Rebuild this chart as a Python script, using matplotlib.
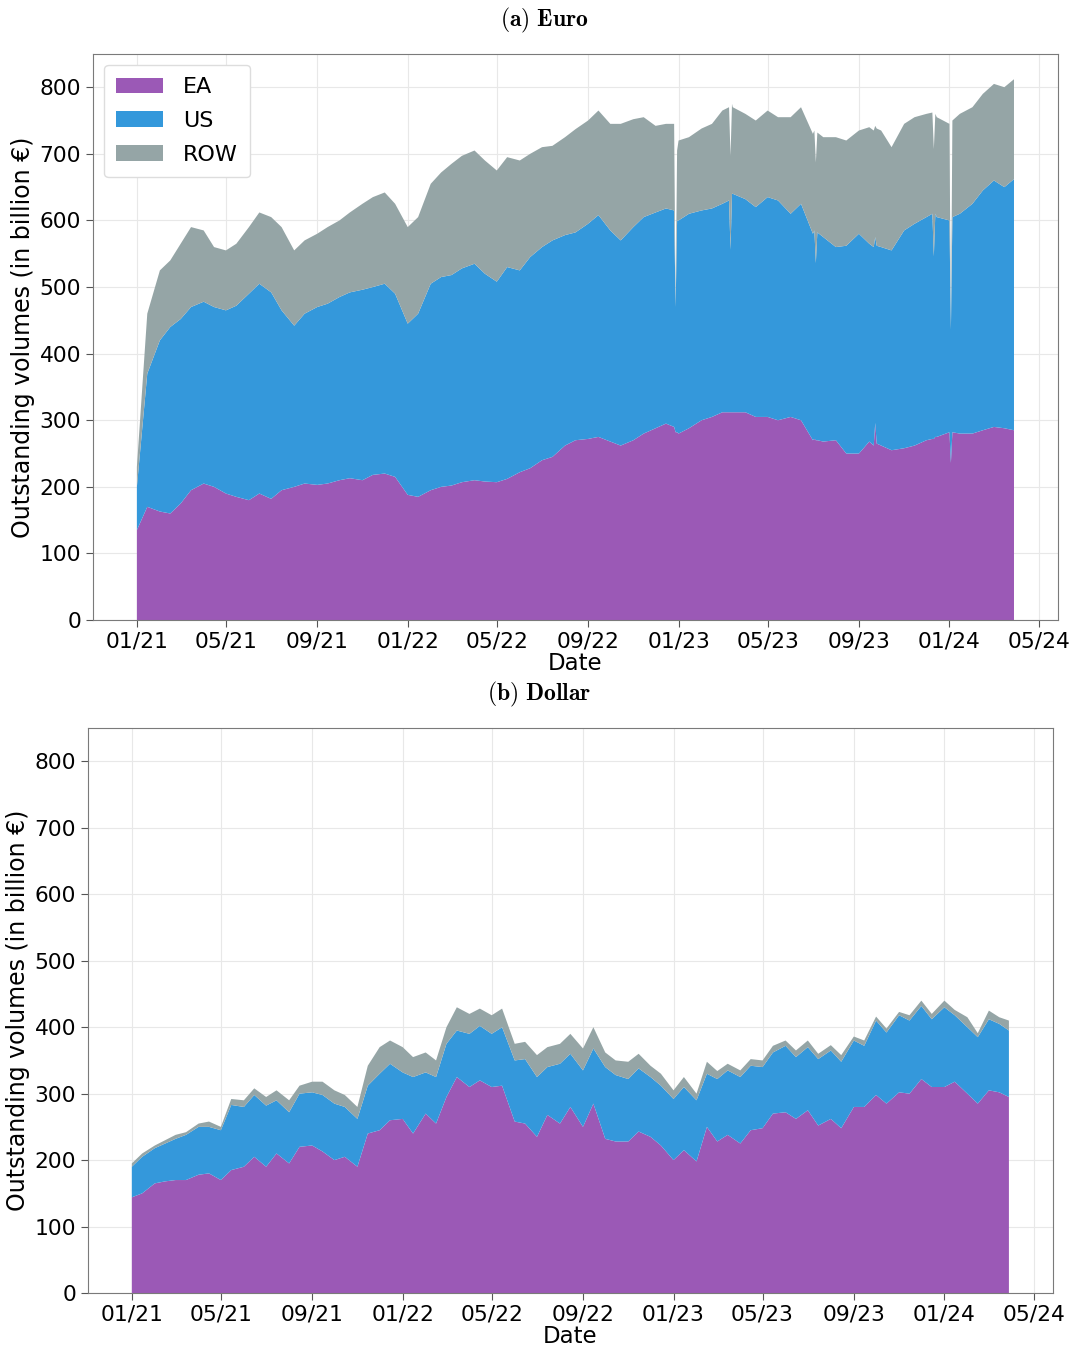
import numpy as np
import pandas as pd
import matplotlib
matplotlib.use('Agg')
import matplotlib.pyplot as plt
import matplotlib.dates as mdates

# semi-monthly reading dates, last one is the final day of data
dates = list(pd.date_range('2021-01-01', '2024-03-15', freq='SMS')) + [pd.Timestamp('2024-03-28')]

# (a) Euro, values (billion)
euro_ea = [135, 170, 163, 160, 175, 195, 205, 200, 190, 185, 180, 190, 182, 195, 200, 205,
           203, 205, 210, 213, 210, 218, 220, 215, 188, 185, 195, 200, 202, 207, 210, 208,
           207, 212, 222, 228, 240, 245, 262, 270, 272, 275, 268, 262, 270, 280, 288, 295,
           280, 288, 300, 305, 312, 312, 312, 305, 305, 300, 305, 300, 270, 268, 270, 250,
           250, 268, 262, 255, 258, 262, 270, 275, 282, 280, 280, 285, 290, 288, 285]
euro_us = [65, 200, 257, 280, 277, 275, 273, 270, 275, 287, 310, 315, 310, 270, 242, 255,
           267, 270, 275, 279, 286, 282, 285, 275, 257, 275, 310, 315, 316, 321, 325, 312,
           301, 318, 303, 317, 320, 325, 316, 312, 323, 333, 317, 308, 320, 325, 324, 323,
           320, 322, 315, 313, 313, 328, 320, 315, 330, 330, 305, 325, 310, 307, 290, 312,
           330, 297, 298, 300, 327, 333, 335, 330, 318, 330, 345, 360, 370, 362, 377]
euro_row = [30, 90, 105, 100, 113, 120, 107, 90, 90, 93, 100, 107, 113, 125, 113, 110,
            110, 115, 115, 120, 129, 135, 137, 135, 145, 145, 150, 157, 167, 169, 170, 170,
            167, 165, 165, 155, 150, 142, 147, 155, 155, 157, 160, 175, 162, 150, 130, 127,
            120, 115, 123, 127, 140, 130, 128, 130, 130, 125, 145, 145, 150, 150, 165, 158,
            155, 175, 175, 155, 160, 160, 155, 150, 145, 150, 145, 145, 145, 150, 150]

# single-day drops and spikes in the euro series
euro_event_dates = ['2022-12-26', '2022-12-28', '2022-12-30', '2023-03-10', '2023-03-12', '2023-03-14',
                    '2023-07-03', '2023-07-05', '2023-07-07', '2023-09-21', '2023-09-23', '2023-09-25',
                    '2023-12-09', '2023-12-11', '2023-12-13', '2024-01-03', '2024-01-05']
euro_event_ea = [290, 282, 282, 312, 312, 312, 272, 270, 270, 262, 296, 265, 272, 272, 275, 236, 282]
euro_event_us = [325, 188, 318, 318, 244, 328, 313, 266, 312, 298, 279, 297, 338, 274, 335, 200, 323]
euro_event_row = [130, 5, 105, 140, 141, 135, 150, 151, 150, 175, 167, 176, 152, 161, 150, 5, 145]

# (b) Dollar
dollar_ea = [144, 150, 165, 168, 170, 170, 178, 180, 170, 185, 190, 205, 190, 210, 195, 220,
             222, 213, 200, 205, 190, 240, 245, 260, 262, 240, 270, 255, 295, 325, 310, 320,
             310, 312, 258, 255, 235, 268, 255, 280, 250, 285, 232, 228, 228, 243, 235, 222,
             200, 215, 198, 250, 228, 238, 225, 245, 248, 270, 272, 262, 275, 252, 262, 248,
             280, 280, 298, 285, 302, 300, 322, 310, 310, 318, 300, 285, 305, 302, 295]
dollar_us = [46, 55, 53, 57, 62, 68, 72, 70, 75, 98, 90, 93, 92, 80, 77, 80,
             80, 85, 85, 75, 72, 72, 85, 85, 70, 85, 62, 70, 80, 70, 80, 82,
             80, 88, 92, 97, 90, 72, 90, 80, 85, 83, 108, 100, 94, 95, 90, 90,
             92, 95, 92, 80, 94, 97, 100, 97, 92, 92, 100, 93, 95, 100, 103, 100,
             100, 92, 112, 107, 116, 110, 110, 102, 120, 100, 100, 100, 107, 103, 100]
dollar_row = [5, 5, 4, 5, 6, 4, 5, 8, 5, 9, 10, 10, 13, 15, 18, 12,
              16, 20, 20, 18, 18, 30, 40, 35, 38, 30, 30, 25, 25, 35, 30, 26,
              28, 28, 25, 26, 33, 30, 30, 30, 33, 32, 22, 22, 26, 22, 17, 18,
              13, 15, 10, 18, 12, 10, 10, 10, 10, 10, 8, 10, 10, 8, 8, 10,
              6, 8, 6, 6, 5, 8, 8, 8, 10, 8, 15, 6, 13, 10, 15]

colors = ['#9b59b6', '#3498db', '#95a5a6']
labels = ['EA', 'US', 'ROW']

plt.rcParams['mathtext.fontset'] = 'cm'
plt.rcParams['font.family'] = ['DejaVu Sans']


def build(ea, us, row, ev_dates=(), ev_ea=(), ev_us=(), ev_row=()):
    df = pd.DataFrame({'date': dates, 'EA': ea, 'US': us, 'ROW': row})
    if len(ev_dates):
        ev = pd.DataFrame({'date': pd.to_datetime(ev_dates), 'EA': ev_ea, 'US': ev_us, 'ROW': ev_row})
        df = pd.concat([df, ev]).sort_values('date')
    return df


def draw(ax, df, legend=False):
    ax.stackplot(df['date'], df['EA'], df['US'], df['ROW'], colors=colors, labels=labels)
    ax.set_ylim(0, 850)
    ax.xaxis.set_major_locator(mdates.MonthLocator(bymonth=[1, 5, 9]))
    ax.xaxis.set_major_formatter(mdates.DateFormatter('%m/%y'))
    ax.grid(True, color='#e8e8e8', linewidth=0.8)
    ax.set_axisbelow(True)
    for s in ax.spines.values():
        s.set_color('#7a7a7a')
    ax.tick_params(labelsize=15.7, length=5, color='#555555')
    ax.set_xlabel('Date', fontsize=16.5, labelpad=0)
    ax.set_ylabel('Outstanding volumes (in billion €)', fontsize=17, labelpad=3)
    if legend:
        ax.legend(loc='upper left', fontsize=16, handlelength=2.1, handletextpad=0.9,
                  labelspacing=0.62, borderpad=0.55, framealpha=1, edgecolor='#dddddd')


fig = plt.figure(figsize=(10.78, 13.48), dpi=100)
ax1 = fig.add_axes([0.0863, 0.540, 0.895, 0.420])
ax2 = fig.add_axes([0.0816, 0.0408, 0.895, 0.419])

draw(ax1, build(euro_ea, euro_us, euro_row, euro_event_dates, euro_event_ea, euro_event_us, euro_event_row), legend=True)
draw(ax2, build(dollar_ea, dollar_us, dollar_row))

fig.text(0.505, 0.985, r'$\mathbf{(a)\ Euro}$', ha='center', va='center', fontsize=17)
fig.text(0.5, 0.485, r'$\mathbf{(b)\ Dollar}$', ha='center', va='center', fontsize=17)

fig.savefig('out.png', dpi=100)
